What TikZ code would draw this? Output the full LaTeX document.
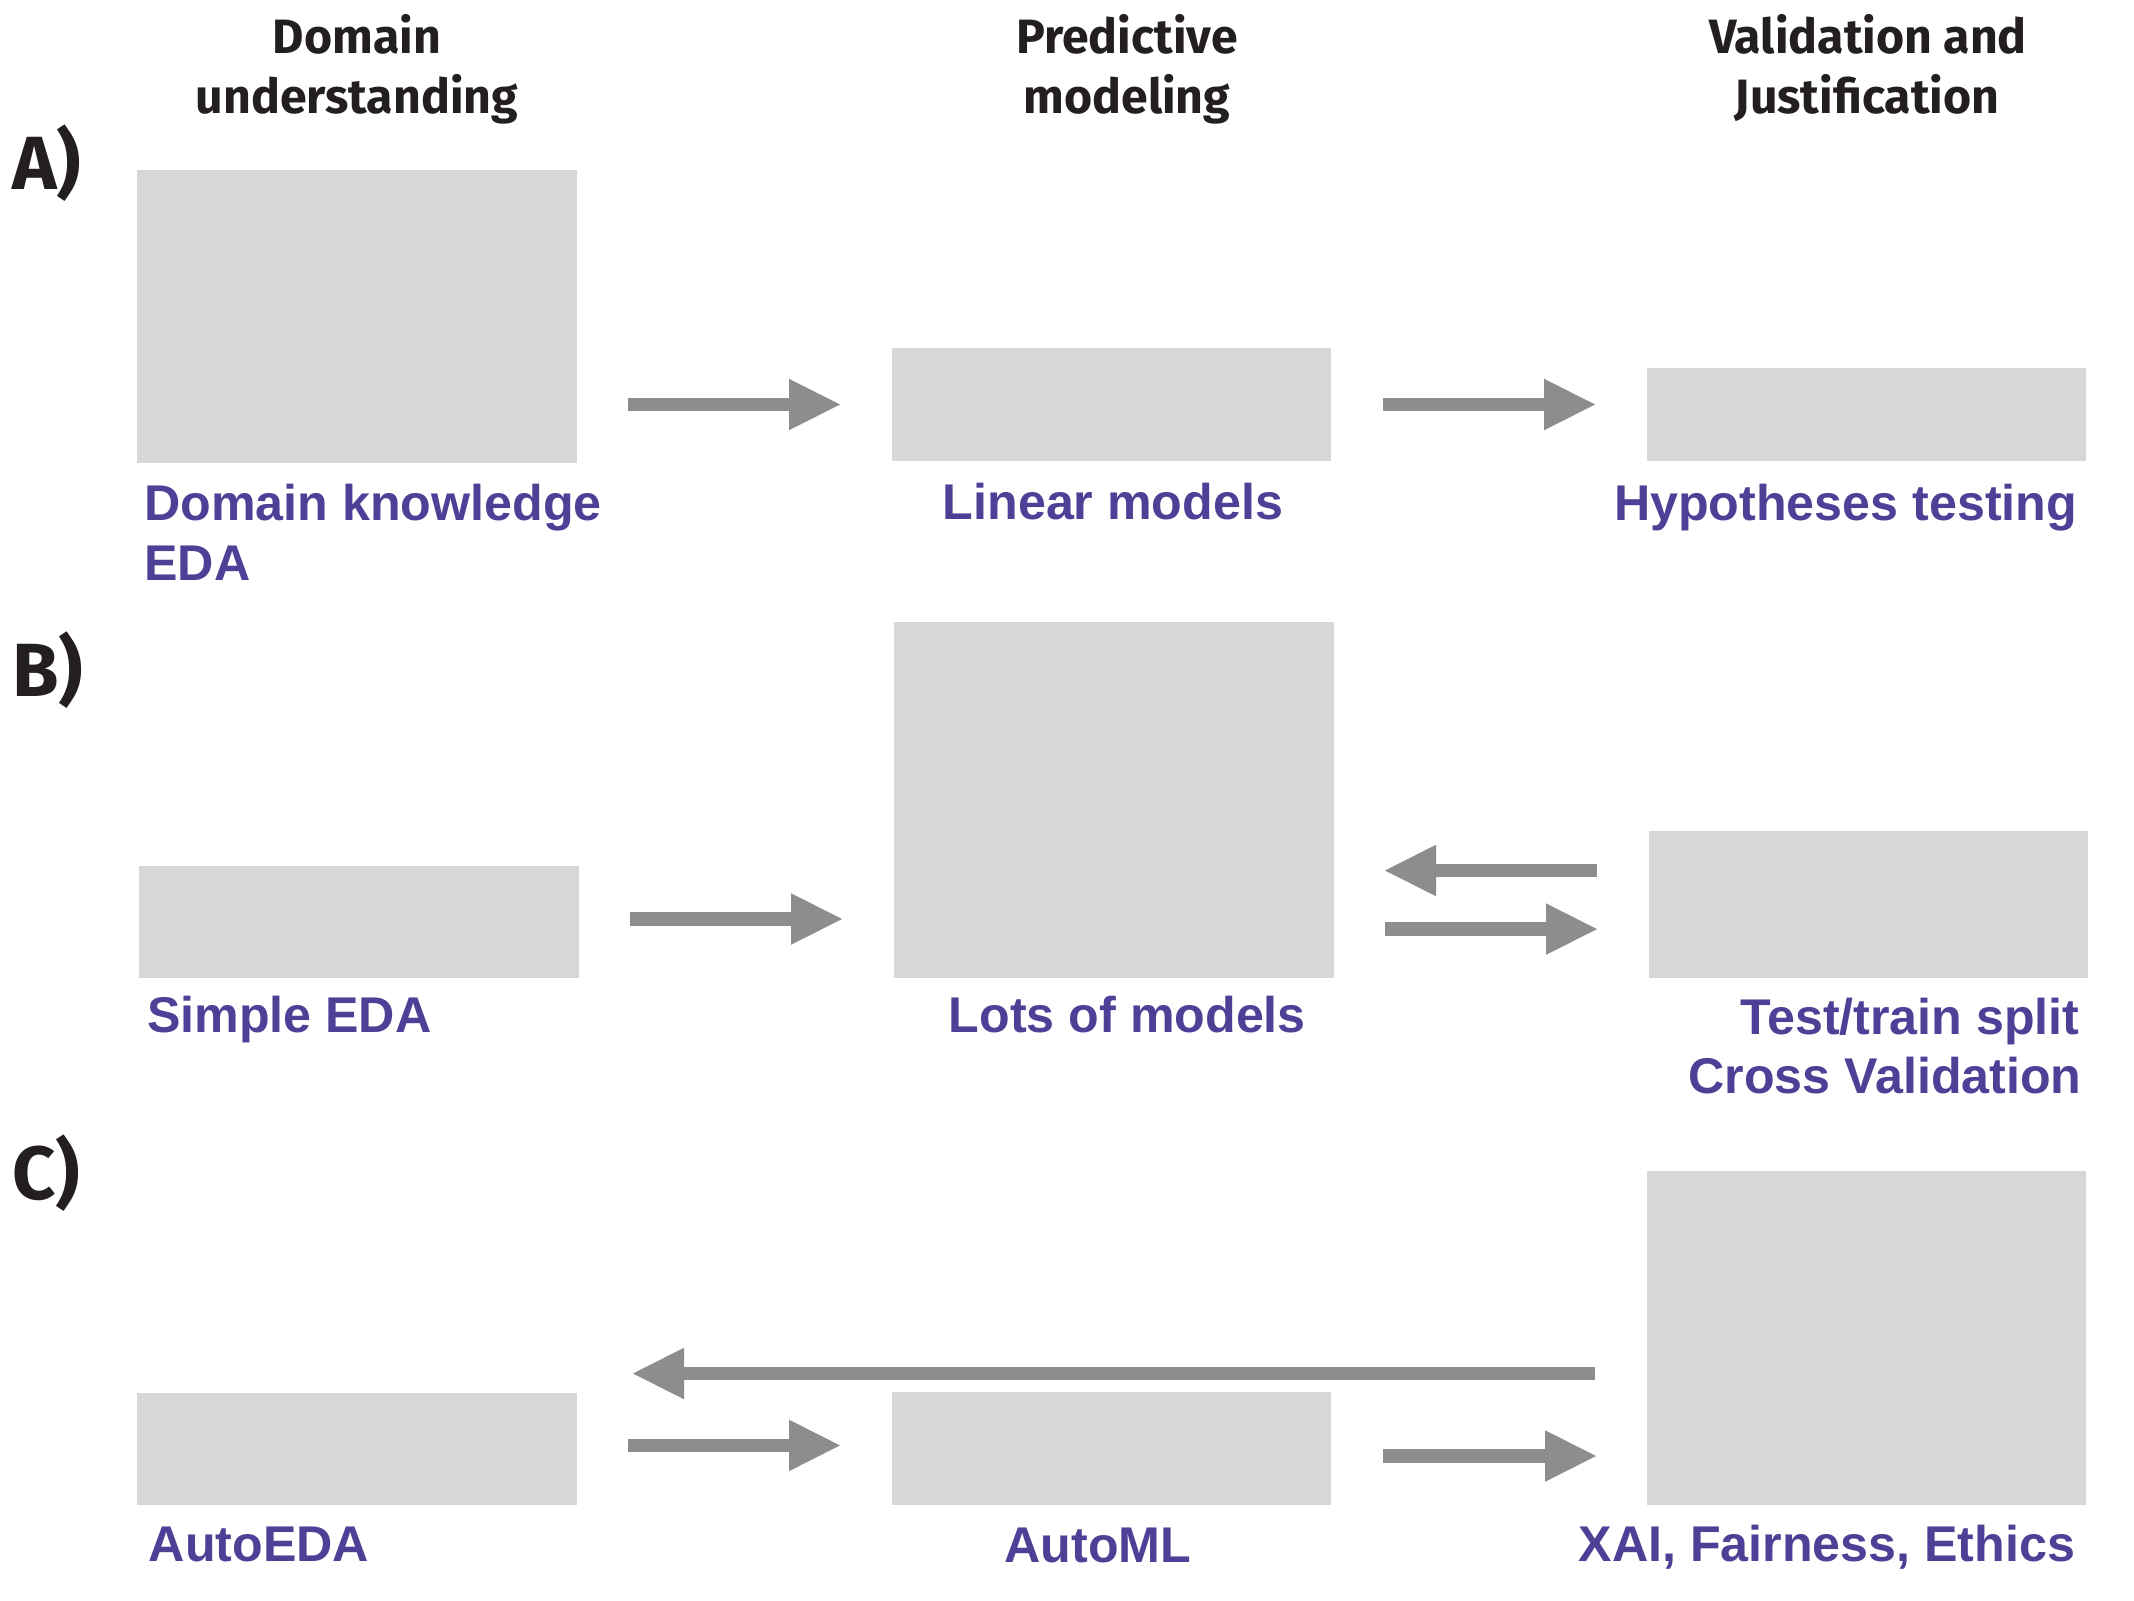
\documentclass[tikz,border=0pt]{standalone}
\usepackage{fontspec}
\setmainfont{Liberation Sans}
\newfontfamily\hdrfont{Fira Sans}
\usetikzlibrary{arrows.meta}
\definecolor{boxgray}{HTML}{D7D7D7}
\definecolor{arrgray}{HTML}{8E8D8B}
\definecolor{lblpurple}{HTML}{4C4196}
\definecolor{hdrblack}{HTML}{231F20}
\begin{document}
\begin{tikzpicture}[x=0.5pt,y=-0.5pt,
  box/.style={fill=boxgray, draw=none, inner sep=0pt, outer sep=0pt, anchor=north west},
  flow/.style={draw=arrgray, line width=6.65pt, -{Triangle[length=25.5pt,width=25.75pt,line width=0pt]}},
  lbl/.style={text=lblpurple, font=\bfseries\fontsize{25.1}{30}\selectfont, inner sep=0pt},
  hdr/.style={text=hdrblack, font=\hdrfont\bfseries\fontsize{24.1}{30}\selectfont, inner sep=0pt, anchor=base},
  panel/.style={text=hdrblack, font=\hdrfont\bfseries\fontsize{37.7}{40}\selectfont, inner sep=0pt, anchor=base west}]
\fill[white] (0,0) rectangle (2134,1600);
\useasboundingbox (0,0) rectangle (2134,1600);

% column headers
\node[hdr] (h1a) at (357,53.6) {Domain};
\node[hdr] (h1b) at (357,113.3) {understanding};
\node[hdr] (h2a) at (1127,53.6) {Predictive};
\node[hdr] (h2b) at (1127,113.3) {modeling};
\node[hdr] (h3a) at (1868,53.6) {Validation and};
\node[hdr] (h3b) at (1867,113.3) {Justification};

% panel letters
\node[panel] (pA) at (11.6,189.8) {A)};
\node[panel] (pB) at (11.6,696.4) {B)};
\node[panel] (pC) at (11.6,1199.5) {C)};

% boxes
\node[box, minimum width=220pt, minimum height=146.5pt] (a1) at (137,170) {};
\node[box, minimum width=219.5pt, minimum height=56.5pt] (a2) at (892,348) {};
\node[box, minimum width=219.5pt, minimum height=46.5pt] (a3) at (1647,368) {};
\node[box, minimum width=220pt, minimum height=56pt] (b1) at (139,866) {};
\node[box, minimum width=220pt, minimum height=178pt] (b2) at (894,622) {};
\node[box, minimum width=219.5pt, minimum height=73.5pt] (b3) at (1649,831) {};
\node[box, minimum width=220pt, minimum height=56pt] (c1) at (137,1393) {};
\node[box, minimum width=219.5pt, minimum height=56.5pt] (c2) at (892,1392) {};
\node[box, minimum width=219.5pt, minimum height=167pt] (c3) at (1647,1171) {};

% labels
\node[lbl, anchor=base west] (la1) at (144,520.4) {Domain knowledge};
\node[lbl, anchor=base west] (la1b) at (144,580) {EDA};
\node[lbl, anchor=base west] (la2) at (942.4,519) {Linear models};
\node[lbl, anchor=base east] (la3) at (2077.5,520.4) {Hypotheses testing};
\node[lbl, anchor=base west] (lb1) at (146.6,1032.1) {Simple EDA};
\node[lbl, anchor=base west] (lb2) at (948.4,1032.5) {Lots of models};
\node[lbl, anchor=base east] (lb3) at (2080,1034.7) {Test/train split};
\node[lbl, anchor=base east] (lb3b) at (2082,1093.4) {Cross Validation};
\node[lbl, anchor=base west] (lc1) at (148.4,1561.2) {AutoEDA};
\node[lbl, anchor=base west] (lc2) at (1004,1562) {AutoML};
\node[lbl, anchor=base east] (lc3) at (2075.5,1561.2) {XAI, Fairness, Ethics};

% connector anchor points
\coordinate (bB) at ([yshift=1.5pt]b1.east);
\coordinate (bu) at ([yshift=17pt]b3.west);
\coordinate (bl) at ([yshift=-12.3pt]b3.west);
\coordinate (cl) at ([yshift=-17.75pt]c3.west);
\coordinate (ca) at ([yshift=1.8pt]c1.east);
\coordinate (cb) at ([yshift=-3.75pt]c2.east);

% connectors
\draw[flow, shorten <=25.5pt, shorten >=26pt] (a1.east |- a2.west) -- (a2.west);
\draw[flow, shorten <=26pt, shorten >=26pt] (a2.east) -- (a2.east -| a3.west);
\draw[flow, shorten <=25.5pt, shorten >=26pt] (bB) -- (bB -| b2.west);
\draw[flow, shorten <=26pt, shorten >=25.5pt] (bu) -- (bu -| b2.east);
\draw[flow, shorten <=25.5pt, shorten >=26pt] (bl -| b2.east) -- (bl);
\draw[flow, shorten <=26pt, shorten >=28pt] (cl) -- (cl -| c1.east);
\draw[flow, shorten <=25.5pt, shorten >=26pt] (ca) -- (ca -| c2.west);
\draw[flow, shorten <=26pt, shorten >=25.5pt] (cb) -- (cb -| c3.west);
\end{tikzpicture}
\end{document}
